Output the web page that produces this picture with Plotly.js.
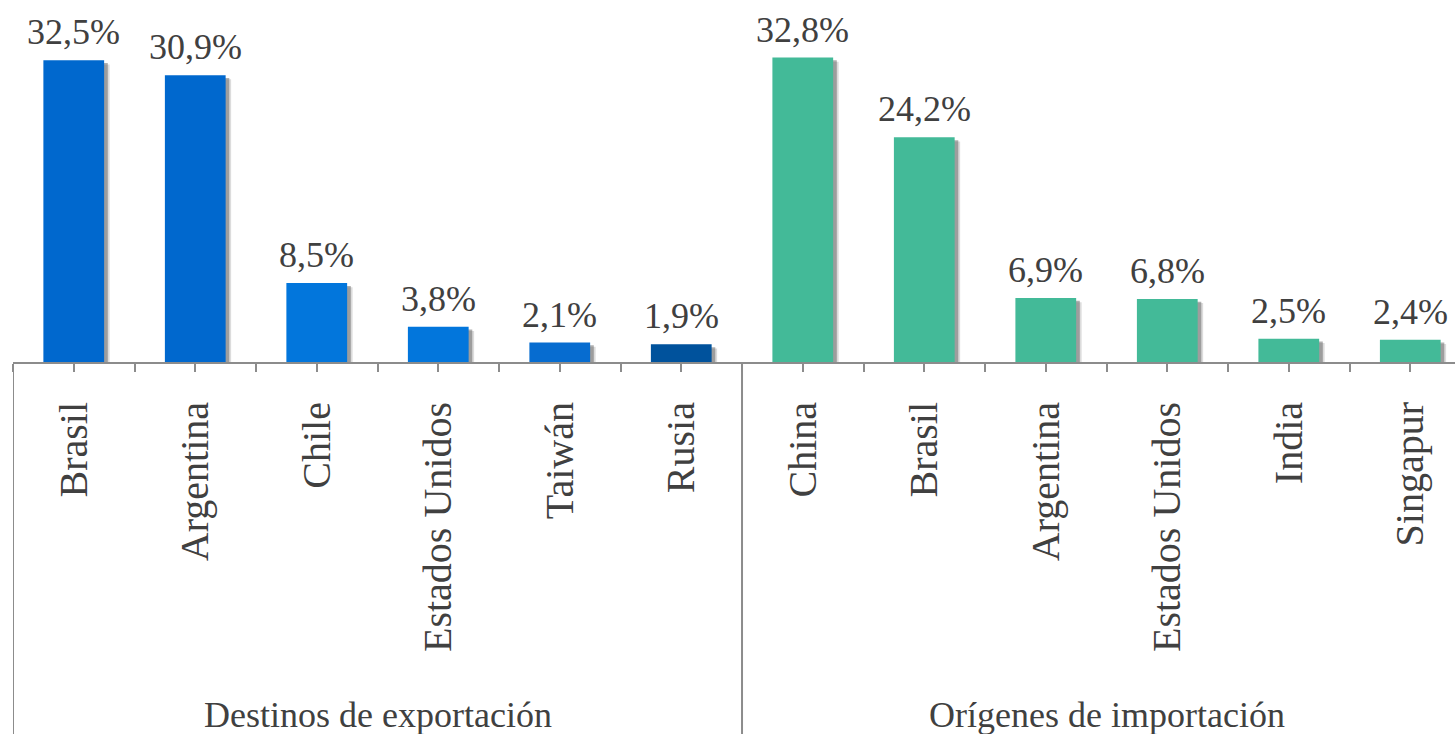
<!DOCTYPE html>
<html>
<head>
<meta charset="utf-8">
<script src="https://cdn.plot.ly/plotly-3.0.1.min.js"></script>
<style>
html,body{margin:0;padding:0;background:#fff;overflow:hidden;}
#chart{width:1455px;height:734px;}
</style>
</head>
<body>
<div id="chart"></div>
<script>
const categories = ["Brasil","Argentina","Chile","Estados Unidos","Taiwán","Rusia",
                    "China","Brasil","Argentina","Estados Unidos","India","Singapur"];
const values = [32.5, 30.9, 8.5, 3.8, 2.1, 1.9, 32.8, 24.2, 6.9, 6.8, 2.5, 2.4];
const valueLabels = ["32,5%","30,9%","8,5%","3,8%","2,1%","1,9%","32,8%","24,2%","6,9%","6,8%","2,5%","2,4%"];
const barColors = ["#0068CE","#0068CE","#0276DC","#0276DC","#066CD0","#00529C",
                   "#43BA98","#43BA98","#43BA98","#43BA98","#43BA98","#43BA98"];
const groups = ["Destinos de exportación","Orígenes de importación"];

const xs = categories.map((c,i)=>i);
const tickvals = [], ticktext = [];
for (let i = 0; i < categories.length; i++) {
  tickvals.push(i - 0.5); ticktext.push("");
  tickvals.push(i); ticktext.push(categories[i]);
}
tickvals.push(categories.length - 0.5); ticktext.push("");

const serif = "Liberation Serif";
const txtColor = "#404040";

const annotations = values.map((v,i)=>({
  x: i, y: v, xref:'x', yref:'y', text: valueLabels[i], showarrow:false,
  yanchor:'bottom', yshift: 6, font:{family:serif, size:36, color:txtColor}
}));
groups.forEach((g,gi)=>{
  annotations.push({x: gi*6 + 2.5, y: -0.975, xref:'x', yref:'paper', text:g, showarrow:false,
    yanchor:'middle', font:{family:serif, size:36, color:txtColor}});
});

const shapes = [-0.5, 5.5, 11.5].map(x=>({
  type:'line', xref:'x', yref:'paper', x0:x, x1:x, y0:0, y1:-1.05,
  line:{color:'#8c8c8c', width:2}
}));

const shadow = {
  type:'bar', x: xs, y: values, width: 0.5, offset: -0.25 + 0.03, base: -0.3,
  marker:{color:'rgba(80,80,80,0.45)', line:{width:0}},
  hoverinfo:'none'
};
const shadow2 = {
  type:'bar', x: xs, y: values, width: 0.5, offset: -0.25 + 0.045, base: -0.45,
  marker:{color:'rgba(80,80,80,0.2)', line:{width:0}},
  hoverinfo:'none'
};
const trace = {
  type:'bar', x: xs, y: values, width: 0.5, offset: -0.25,
  marker:{color: barColors, line:{width:0}},
  hoverinfo:'none'
};

const layout = {
  width:1455, height:734,
  margin:{l:13, r:0, t:0, b:372},
  paper_bgcolor:'#fff', plot_bgcolor:'#fff',
  showlegend:false, barmode:'overlay',
  xaxis:{
    range:[-0.5, 11.368], tickmode:'array', tickvals: tickvals, ticktext: ticktext,
    tickangle:-90, ticks:'outside', ticklen:8, tickwidth:2, tickcolor:'#8c8c8c',
    ticklabelstandoff: 14,
    showline:true, linecolor:'#8c8c8c', linewidth:2, showgrid:false, zeroline:false,
    tickfont:{family:serif, size:40, color:txtColor}, fixedrange:true
  },
  yaxis:{
    range:[0,39], visible:false, showgrid:false, zeroline:false, fixedrange:true
  },
  annotations: annotations,
  shapes: shapes
};

Plotly.newPlot('chart', [shadow2, shadow, trace], layout, {displayModeBar:false, staticPlot:true});
</script>
</body>
</html>
